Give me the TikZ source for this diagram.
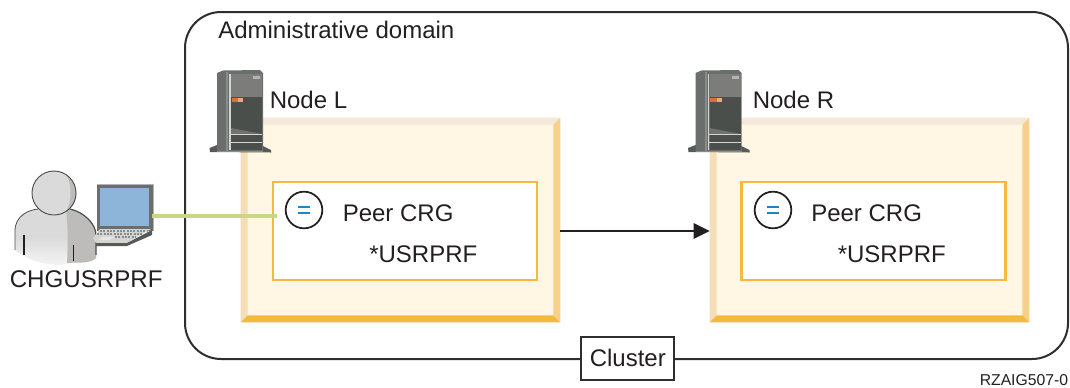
\documentclass[tikz,border=0pt]{standalone}
\usepackage{fontspec}
\setmainfont{Liberation Sans}
\usetikzlibrary{arrows.meta}
\definecolor{ink}{HTML}{231F20}
\definecolor{frameline}{HTML}{2E2E2E}
\definecolor{bevT}{HTML}{F4E9D8}
\definecolor{bevL}{HTML}{F5DFB8}
\definecolor{bevR}{HTML}{F7D08A}
\definecolor{bevB}{HTML}{F6B93F}
\definecolor{panelfill}{HTML}{FFF7E3}
\definecolor{crgline}{HTML}{F6B93F}
\definecolor{linkgreen}{HTML}{C9D686}
\definecolor{eqblue}{HTML}{1B87C9}
\definecolor{scrblue}{HTML}{8DB4D9}
\tikzset{
  lbl/.style={anchor=base west,inner sep=0pt,text=ink,font=\fontsize{18}{20}\selectfont},
  panel/.style={minimum width=239.25pt,minimum height=153pt,inner sep=0pt,fill=panelfill},
  crg/.style={minimum width=198pt,minimum height=73.5pt,inner sep=0pt,draw=crgline,line width=1.7pt,fill=white},
  eqcirc/.style={circle,minimum size=27.5pt,inner sep=0pt,draw=ink,line width=1.3pt,fill=white},
}
\newcommand{\bevelpanel}[1]{%
  \fill[bevT] (#1.north west) -- (#1.north east) -- ([xshift=-5.25pt,yshift=-5.25pt]#1.north east) -- ([xshift=5.25pt,yshift=-5.25pt]#1.north west) -- cycle;
  \fill[bevL] (#1.north west) -- (#1.south west) -- ([xshift=5.25pt,yshift=5.25pt]#1.south west) -- ([xshift=5.25pt,yshift=-5.25pt]#1.north west) -- cycle;
  \fill[bevR] (#1.north east) -- (#1.south east) -- ([xshift=-5.25pt,yshift=5.25pt]#1.south east) -- ([xshift=-5.25pt,yshift=-5.25pt]#1.north east) -- cycle;
  \fill[bevB] (#1.south west) -- (#1.south east) -- ([xshift=-5.25pt,yshift=5.25pt]#1.south east) -- ([xshift=5.25pt,yshift=5.25pt]#1.south west) -- cycle;
}
\newcommand{\eqsign}[1]{%
  \draw[eqblue,line width=1.7pt] ([xshift=-4.5pt,yshift=2pt]#1.center) -- ([xshift=4.5pt,yshift=2pt]#1.center);
  \draw[eqblue,line width=1.7pt] ([xshift=-4.5pt,yshift=-2pt]#1.center) -- ([xshift=4.5pt,yshift=-2pt]#1.center);
}
\newcommand{\serverpic}[1]{%
  \begin{scope}[shift={(#1,0)}]
    \fill[HTML565A58] (209.5,148) -- (217,145) -- (263,146) -- (271,150) -- (271,152.5) -- (210,152) -- cycle;
    \fill[HTML6A6E6C] (217,73) -- (223,70.5) -- (260,70) -- (263,73) -- (263,151) -- (217,151) -- cycle;
    \fill[HTML8A8C8A] (226,72) -- (228,72) -- (228,151) -- (226,151) -- cycle;
    \fill[HTML4A4F4B] (231,97) rectangle (262,150);
    \fill[HTML7C7C7A] (231,74) rectangle (262,97);
    \fill[HTMLB4B4B2] (253,76) rectangle (260,79);
    \fill[HTML70726F] (231,128) -- (262,134) -- (231,134) -- cycle;
    \fill[HTMLD9703A] (231.5,98) rectangle (238,102);
    \fill[HTMLF0A878] (238,98) rectangle (243,102);
    \draw[HTMLD4D4D0,line width=.8pt] (230,74) -- (230,150);
    \draw[HTMLD4D4D0,line width=.7pt] (230,134.5) -- (262,134.5);
    \draw[HTMLD4D4D0,line width=.7pt] (230,142.5) -- (262,142.5);
    \draw[HTML8A8C8A,line width=.5pt] (217,151.5) -- (263,151.5);
  \end{scope}
}
\newcommand{\defhtml}[1]{\definecolor{HTML#1}{HTML}{#1}}
\defhtml{565A58}\defhtml{6A6E6C}\defhtml{8A8C8A}\defhtml{4A4F4B}\defhtml{7C7C7A}\defhtml{B4B4B2}\defhtml{70726F}\defhtml{D9703A}\defhtml{F0A878}\defhtml{D4D4D0}\defhtml{DADADA}\defhtml{BDBCBA}\defhtml{F4F4F4}
\begin{document}
\begin{tikzpicture}[x=0.75pt,y=-0.75pt]
\useasboundingbox (0,0) rectangle (1070,387);
\node[minimum width=662.25pt,minimum height=260.25pt,inner sep=0pt,draw=frameline,line width=1.5pt,rounded corners=27pt] (cluster) at (626.5,185.5) {};
\node[draw=frameline,line width=1.5pt,fill=white,minimum width=69.75pt,minimum height=32.25pt,inner sep=0pt] (clusterbox) at (627.5,358.5) {};
\node[lbl] (clusterlbl) at (589.5,366) {Cluster};
\node[lbl] (admin) at (218,38) {Administrative domain};
% panels
\node[panel] (panelL) at (400.5,220) {};
\node[panel] (panelR) at (869.5,220) {};
\bevelpanel{panelL}
\bevelpanel{panelR}
\node[crg] (crgL) at (405,231) {};
\node[crg] (crgR) at (873.5,231) {};
\node[eqcirc] (eqL) at (304,210) {};
\node[eqcirc] (eqR) at (773,210) {};
\eqsign{eqL}
\eqsign{eqR}
\node[lbl] (peerL) at (342.5,221) {Peer CRG};
\node[lbl] (peerR) at (811,221) {Peer CRG};
\node[lbl] (usrL) at (369,262) {*USRPRF};
\node[lbl] (usrR) at (837.5,262) {*USRPRF};
% servers
\serverpic{0}
\serverpic{478.5}
\node[lbl] (nodeL) at (269.5,108) {Node L};
\node[lbl] (nodeR) at (752.5,108) {Node R};
% arrow
\draw[ink,line width=1.5pt,-{Triangle[length=12pt,width=11.5pt]}] ([yshift=-8.25pt]panelL.east) -- ([yshift=-8.25pt]panelR.west);
% person
\shade[top color=HTMLDADADA,bottom color=HTMLF4F4F4,middle color=HTMLDADADA] (15,250) -- (15,231) .. controls (15,216) and (28,210) .. (38,209) -- (70,209) .. controls (84,212) and (96,224) .. (96,235) -- (96,258) .. controls (90,264) and (80,262) .. (60,265) .. controls (40,265) and (25,258) .. (15,250) -- cycle;
\fill[HTMLBDBCBA] (66,209) .. controls (68,225) and (68,245) .. (67,263) .. controls (80,262) and (90,264) .. (96,258) -- (96,235) .. controls (96,224) and (84,212) .. (70,209) -- cycle;
\draw[HTML4A4F4B,line width=.6pt] (15,250) -- (15,231) .. controls (15,216) and (28,210) .. (38,209);
\draw[HTML4A4F4B,line width=.9pt] (70,209) .. controls (84,212) and (96,224) .. (96,235) -- (96,255);
\fill[HTMLDADADA] (54,193) circle[radius=22];
\fill[HTMLBDBCBA] (66,175) .. controls (72,182) and (72,204) .. (66,211) .. controls (80,206) and (80,182) .. (66,175) -- cycle;
\draw[HTML4A4F4B,line width=.7pt] (54,193) circle[radius=22];
\draw[ink,line width=1.2pt] (24,235) -- (24,255);
\draw[ink,line width=1.2pt] (73.5,245) -- (73.5,261);
% laptop
\fill[HTML6A6E6C] (97,184) -- (153,184) -- (153,231) -- (97,231) -- cycle;
\fill[scrblue] (100,188) rectangle (148.5,226);
\draw[HTMLB4B4B2,line width=.6pt] (97,184) -- (153,184) -- (153,231);
\fill[HTMLD4D4D0] (93,238) -- (100,229) -- (151,229) -- (127,243) -- (96,243) -- cycle;
\fill[HTML565A58] (96,243) -- (127,243) -- (152,230) -- (152,235) -- (127,246) -- (96,246) -- cycle;
\draw[HTML8A8C8A,line width=.8pt,dash pattern=on 1.5pt off 1pt] (100,231) -- (148,231);
\draw[HTML8A8C8A,line width=.8pt,dash pattern=on 1.5pt off 1pt] (97,234) -- (142,234);
\draw[HTML8A8C8A,line width=.8pt,dash pattern=on 1.5pt off 1pt] (115,237) -- (136,237);
\fill[white!90!black] (98,240) -- (103,236.5) -- (115,236.5) -- (110,240) -- cycle;
\node[lbl,font=\fontsize{18.1}{20}\selectfont] (chg) at (9.5,287) {CHGUSRPRF};
% link
\coordinate (lapport) at (152,216);
\coordinate (crgport) at (277,216);
\draw[linkgreen,line width=3.2pt] (lapport) -- (crgport);
\node[lbl,font=\fontsize{11.8}{13}\selectfont] (ref) at (979.5,385.5) {RZAIG507-0};
\end{tikzpicture}
\end{document}
